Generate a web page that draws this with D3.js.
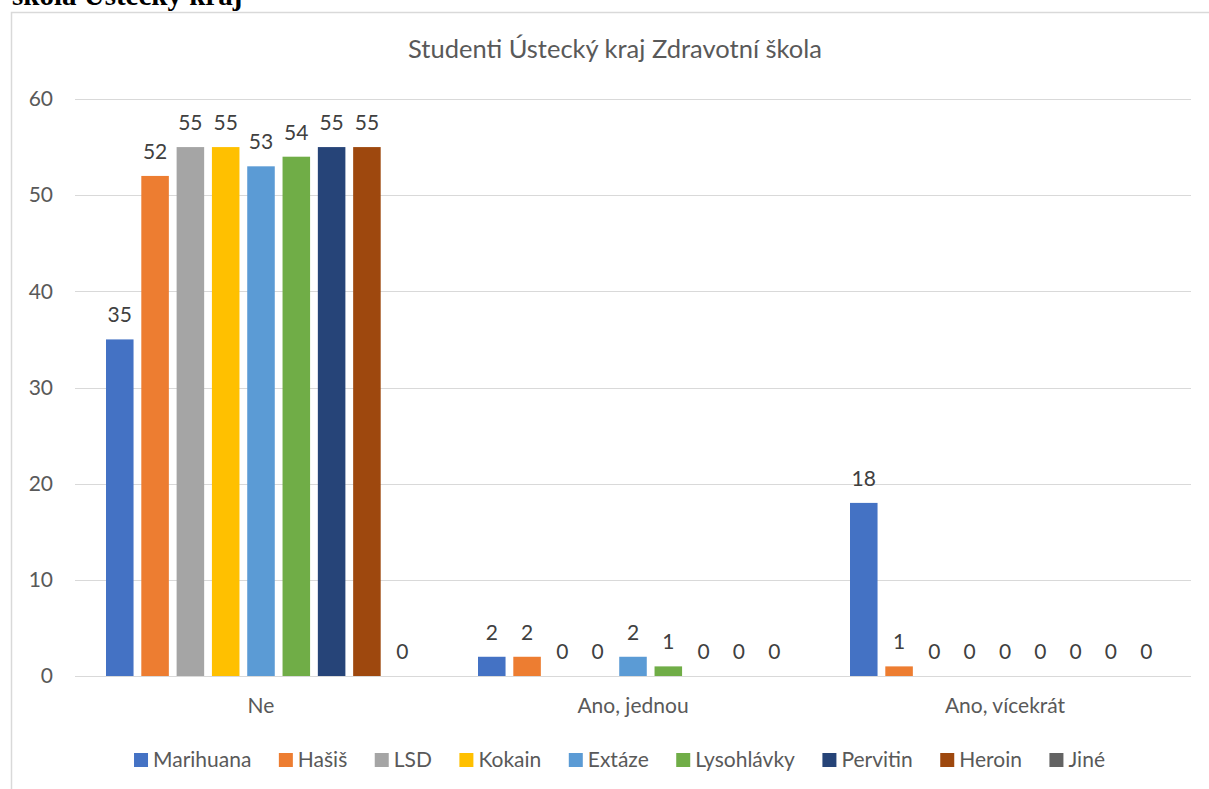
<!DOCTYPE html>
<html>
<head>
<meta charset="utf-8">
<script src="https://cdnjs.cloudflare.com/ajax/libs/d3/7.8.5/d3.min.js"></script>
<style>
  html, body { margin: 0; padding: 0; background: #fff; }
  svg { display: block; }
</style>
</head>
<body>
<svg id="chart" width="1209" height="789"></svg>
<script>
// Answer categories and drug series
const categories = ["Ne", "Ano, jednou", "Ano, vícekrát"];
const seriesNames = ["Marihuana", "Hašiš", "LSD", "Kokain", "Extáze", "Lysohlávky", "Pervitin", "Heroin", "Jiné"];
const seriesColors = ["#4472C4", "#ED7D31", "#A5A5A5", "#FFC000", "#5B9BD5", "#70AD47", "#264478", "#9E480E", "#636363"];

// Counts per series, in category order
const marihuana  = [35, 2, 18];
const hasis      = [52, 2, 1];
const lsd        = [55, 0, 0];
const kokain     = [55, 0, 0];
const extaze     = [53, 2, 0];
const lysohlavky = [54, 1, 0];
const pervitin   = [55, 0, 0];
const heroin     = [55, 0, 0];
const jine       = [0, 0, 0];

const yTicks = [0, 10, 20, 30, 40, 50, 60];
const chartTitle = "Studenti Ústecký kraj Zdravotní škola";
const headingText = "škola Ústecký kraj";

const seriesValues = [marihuana, hasis, lsd, kokain, extaze, lysohlavky, pervitin, heroin, jine];

const FONT = "Lato, 'Noto Sans', sans-serif";
const LABEL_SIZE = 21;
const svg = d3.select("#chart");

// Heading text above the chart frame (runs off the top of the page)
svg.append("text")
  .attr("x", 12).attr("y", 5)
  .attr("font-family", "'Liberation Serif', 'Times New Roman', serif")
  .attr("font-weight", "bold")
  .attr("font-size", 29)
  .attr("fill", "#000")
  .text(headingText);

// Chart frame
svg.append("path")
  .attr("d", "M11.5,789 L11.5,12.5 L1209,12.5")
  .attr("fill", "none")
  .attr("stroke", "#D9D9D9")
  .attr("stroke-width", 1.5);

// Title
svg.append("text")
  .attr("x", 615).attr("y", 58)
  .attr("text-anchor", "middle")
  .attr("font-family", FONT)
  .attr("font-size", 25.5)
  .attr("fill", "#595959")
  .text(chartTitle);

const plot = { left: 75, right: 1191, top: 99, bottom: 676 };

const y = d3.scaleLinear().domain([0, 60]).range([plot.bottom, plot.top]);
const x0 = d3.scaleBand().domain(categories).range([plot.left, plot.right]).paddingInner(0).paddingOuter(0);
const x1 = d3.scaleBand().domain(seriesNames)
  .range([31, x0.bandwidth() - 31])
  .paddingInner(0.22).paddingOuter(0);
const color = d3.scaleOrdinal().domain(seriesNames).range(seriesColors);

// Gridlines
svg.append("g")
  .selectAll("line")
  .data(yTicks)
  .join("line")
  .attr("x1", plot.left).attr("x2", plot.right)
  .attr("y1", d => Math.round(y(d)) + 0.5).attr("y2", d => Math.round(y(d)) + 0.5)
  .attr("stroke", "#D9D9D9")
  .attr("stroke-width", 1);

// Y axis labels
const yAxis = d3.axisLeft(y).tickValues(yTicks).tickSize(0).tickPadding(0);
const yg = svg.append("g").attr("transform", `translate(${plot.left - 22},0)`).call(yAxis);
yg.select(".domain").remove();
yg.selectAll("text")
  .attr("font-family", FONT)
  .attr("font-size", LABEL_SIZE)
  .attr("fill", "#595959");

// X axis category labels
const xAxis = d3.axisBottom(x0).tickSize(0).tickPadding(0);
const xg = svg.append("g").attr("transform", `translate(0,${plot.bottom})`).call(xAxis);
xg.select(".domain").remove();
xg.selectAll("text")
  .attr("font-family", FONT)
  .attr("font-size", LABEL_SIZE)
  .attr("fill", "#595959")
  .attr("dy", null)
  .attr("y", 37);

// Bars and value labels
const rows = [];
categories.forEach((c, ci) => {
  seriesNames.forEach((s, si) => {
    rows.push({ category: c, series: s, value: seriesValues[si][ci] });
  });
});

const groups = svg.append("g")
  .selectAll("g")
  .data(categories)
  .join("g")
  .attr("transform", d => `translate(${x0(d)},0)`);

groups.selectAll("rect")
  .data(c => rows.filter(r => r.category === c))
  .join("rect")
  .attr("x", d => x1(d.series))
  .attr("width", x1.bandwidth())
  .attr("y", d => y(d.value))
  .attr("height", d => y(0) - y(d.value))
  .attr("fill", d => color(d.series));

groups.selectAll("text")
  .data(c => rows.filter(r => r.category === c))
  .join("text")
  .attr("x", d => x1(d.series) + x1.bandwidth() / 2)
  .attr("y", d => y(d.value) - 17)
  .attr("text-anchor", "middle")
  .attr("font-family", FONT)
  .attr("font-size", LABEL_SIZE)
  .attr("fill", "#404040")
  .text(d => d.value);

// Legend
const legend = svg.append("g");
const items = legend.selectAll("g")
  .data(seriesNames)
  .join("g");
items.append("rect")
  .attr("width", 14).attr("height", 14)
  .attr("y", -14)
  .attr("fill", d => color(d));
items.append("text")
  .attr("x", 19)
  .attr("font-family", FONT)
  .attr("font-size", LABEL_SIZE)
  .attr("fill", "#595959")
  .text(d => d);

const LEGEND_GAP = 27.5;
let cursor = 0;
items.each(function () {
  const g = d3.select(this);
  const w = 19 + g.select("text").node().getComputedTextLength();
  g.attr("transform", `translate(${cursor},767)`);
  cursor += w + LEGEND_GAP;
});
const legendWidth = cursor - LEGEND_GAP;
legend.attr("transform", `translate(${619.5 - legendWidth / 2},0)`);
</script>
</body>
</html>
